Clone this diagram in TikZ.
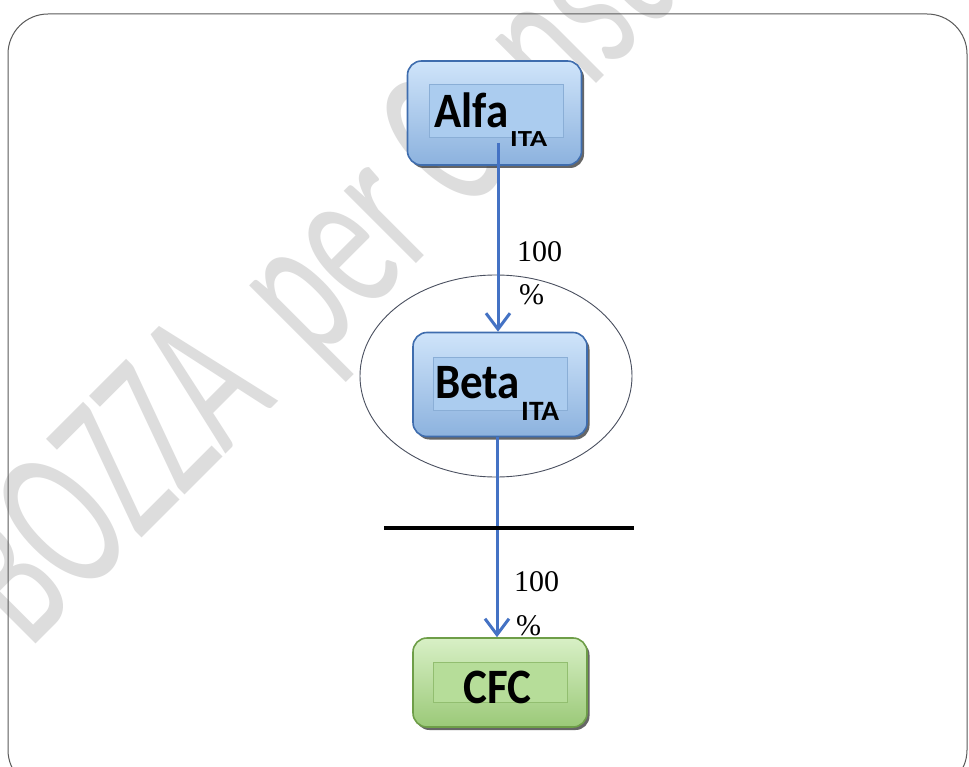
\documentclass[tikz,border=0pt]{standalone}
\usepackage{fontspec}
\setmainfont{Liberation Serif}
\newfontfamily\cali{Carlito}
\usetikzlibrary{shapes.geometric,arrows.meta,calc,shadows}
\definecolor{frameline}{HTML}{5A5A5A}
\definecolor{wmgray}{HTML}{DDDDDD}
\definecolor{flowblue}{HTML}{4472C4}
\definecolor{bluetop}{HTML}{CFE4FA}
\definecolor{bluemid}{HTML}{A9CBF0}
\definecolor{bluebot}{HTML}{8CB2DE}
\definecolor{blueedge}{HTML}{3F6DAE}
\definecolor{blueinfill}{HTML}{ABCCEF}
\definecolor{blueinline}{HTML}{8AAED6}
\definecolor{greentop}{HTML}{D8F0C6}
\definecolor{greenmid}{HTML}{B5DC97}
\definecolor{greenbot}{HTML}{9BC978}
\definecolor{greenedge}{HTML}{6E9E48}
\definecolor{greeninfill}{HTML}{B6DD99}
\definecolor{greeninline}{HTML}{92BE70}
\definecolor{ellline}{HTML}{4A5060}
\begin{document}
\begin{tikzpicture}[x=1pt,y=-1pt,
  bevel/.style={rectangle, rounded corners=14pt, line width=1.6pt,
    minimum width=174pt, minimum height=104pt, inner sep=0pt,
    drop shadow={shadow xshift=2.5pt, shadow yshift=-3pt, opacity=0.8, fill=black!75}},
  bluebox/.style={bevel, draw=blueedge, top color=bluetop, middle color=bluemid, bottom color=bluebot},
  greenbox/.style={bevel, draw=greenedge, top color=greentop, middle color=greenmid, bottom color=greenbot, minimum height=89pt},
  innerblue/.style={rectangle, draw=blueinline, fill=blueinfill, line width=1pt, minimum width=134pt, minimum height=53pt, inner sep=0pt},
  innergreen/.style={rectangle, draw=greeninline, fill=greeninfill, line width=1pt, minimum width=134pt, minimum height=40pt, inner sep=0pt},
  bigtxt/.style={inner sep=0pt, anchor=base west, font=\cali\bfseries\fontsize{45}{50}\selectfont},
  subtxt/.style={inner sep=0pt, anchor=base west, font=\cali\bfseries\fontsize{23}{26}\selectfont},
  subtxtb/.style={inner sep=0pt, anchor=base west, font=\cali\bfseries\fontsize{28}{30}\selectfont},
  pct/.style={inner sep=0pt, anchor=base west, font=\fontsize{30}{34}\selectfont},
  flow/.style={draw=flowblue, line width=3pt, -{Straight Barb[length=16pt,width=24pt]}},
  wm/.style={inner sep=0pt, anchor=base west, rotate=45, text=wmgray, font=\cali\fontsize{214}{240}\selectfont}
]
\useasboundingbox (0,0) rectangle (969,767);
\clip (0,0) rectangle (969,767);
\fill[white] (0,0) rectangle (969,767);

% watermark
\node[wm] (wmark) at (29,651) {\scalebox{0.612}[1]{BOZZA\hspace{36pt} per Consultazione}};

% frame
\draw[frameline, line width=1pt, rounded corners=40pt] (8,14) rectangle (967,790);

% group ellipse
\node[ellipse, draw=ellline, line width=0.9pt, minimum width=272pt, minimum height=202pt, inner sep=0pt] (grp) at (496,376) {};

% boxes
\node[bluebox] (alfa) at (494.5,113) {};
\node[innerblue] (alfain) at (496.5,111.5) {};
\node[bluebox] (beta) at (500,384.5) {};
\node[innerblue] (betain) at (500,383.5) {};
\node[greenbox] (cfc) at (500,682.5) {};
\node[innergreen] (cfcin) at (500,682) {};

% texts
\node[bigtxt] (alfat) at (434,128) {\scalebox{1}[1.1]{Alfa}};
\node[subtxt] (alfas) at (510,147) {\scalebox{1.25}[1]{ITA}};
\node[bigtxt] (betat) at (435,398) {\scalebox{1}[1.1]{Beta}};
\node[subtxtb] (betas) at (521,420) {\scalebox{1.05}[1]{ITA}};
\node[bigtxt] (cfct) at (463,703) {\scalebox{1}[1.1]{CFC}};

% connectors
\coordinate (a1) at (498,143);
\draw[flow] (a1) -- (a1 |- beta.north);
\coordinate (b1) at (497,437);
\draw[flow] (b1) -- (b1 |- cfc.north);

% cut line
\coordinate (h1) at (384,528);
\coordinate (h2) at (634,528);
\draw[black, line width=3.5pt] (h1) -- (h2);

% percentages
\node[pct] (p1a) at (517,262) {100};
\node[pct] (p1b) at (519,305) {\%};
\node[pct] (p2a) at (514,591) {100};
\node[pct] (p2b) at (516,635) {\%};
\end{tikzpicture}
\end{document}
